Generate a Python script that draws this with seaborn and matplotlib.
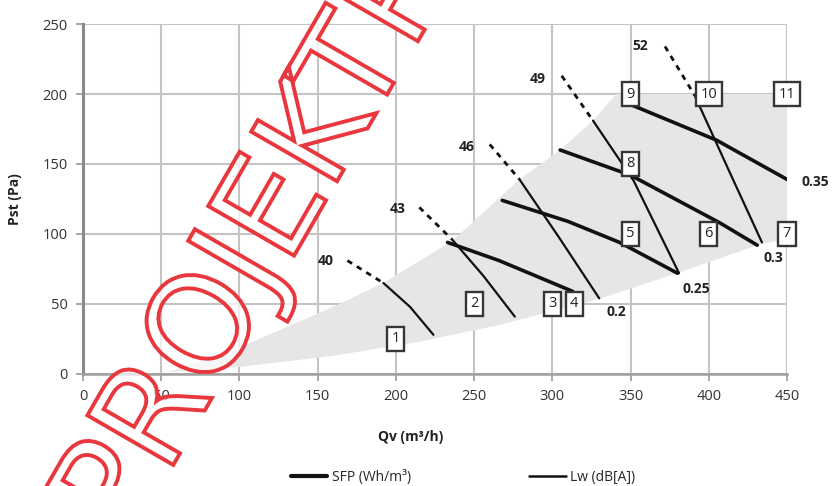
import matplotlib
matplotlib.use('Agg')
import matplotlib.pyplot as plt
import seaborn as sns
from matplotlib.lines import Line2D
from matplotlib.patches import PathPatch
from matplotlib.textpath import TextPath
from matplotlib.font_manager import FontProperties
from matplotlib.transforms import Affine2D

# working area (grey band)
region_top_x = [55, 96, 160, 192, 236, 279, 305, 326, 341, 450]
region_top_y = [1.5, 17, 48, 65, 95, 139, 160, 181, 200, 200]
region_bot_x = [55, 100, 160, 215, 266, 328, 380, 431, 450]
region_bot_y = [1.5, 5, 13, 23, 35, 53, 72, 92, 97]

# SFP curves (thick)
sfp_labels = ['0.2', '0.25', '0.3', '0.35']
sfp_x = [[233, 266, 313], [268, 310, 343, 380], [305, 350, 407, 431], [351, 405, 450]]
sfp_y = [[94, 81, 59], [124, 109, 94, 72], [160, 142, 108, 92], [192, 167, 139]]
sfp_label_x = [341, 392, 441, 468]
sfp_label_y = [44, 61, 83, 137]

# Lw curves (thin), dashed part outside the working area
lw_labels = ['40', '43', '46', '49', '52']
lw_dash_x = [[169, 192], [215, 236], [260, 279], [306, 326], [372, 391]]
lw_dash_y = [[81, 65], [119, 96], [164, 139], [213, 181], [234, 199]]
lw_solid_x = [[192, 209, 224], [236, 256, 276], [279, 304, 330], [326, 352, 381], [391, 413, 434]]
lw_solid_y = [[65, 48, 28], [96, 70, 41], [139, 98, 54], [181, 138, 72], [199, 145, 94]]
lw_label_x = [155, 201, 245, 291, 356]
lw_label_y = [81, 118, 162, 211, 234]

# numbered boxes
box_labels = ['1', '2', '3', '4', '5', '6', '7', '8', '9', '10', '11']
box_x = [200, 250, 300, 314, 350, 400, 450, 350, 350, 400, 450]
box_y = [25, 50, 50, 50, 100, 100, 100, 150, 200, 200, 200]

sns.set_theme(style='whitegrid')
plt.rcParams['font.family'] = ['Open Sans', 'DejaVu Sans']

fig = plt.figure(figsize=(8.35, 4.86), dpi=100)
ax = fig.add_axes([0.0994, 0.2305, 0.8431, 0.7201])
ax.set_facecolor('white')

# grey region
poly_x = region_top_x + region_bot_x[::-1]
poly_y = region_top_y + region_bot_y[::-1]
ax.fill(poly_x, poly_y, color='#e5e6e5', lw=0, zorder=1)

line_col = '#111111'
for xs, ys in zip(sfp_x, sfp_y):
    sns.lineplot(x=xs, y=ys, ax=ax, color=line_col, linewidth=2.6, sort=False,
                 estimator=None, zorder=3)
for xs, ys in zip(lw_solid_x, lw_solid_y):
    sns.lineplot(x=xs, y=ys, ax=ax, color=line_col, linewidth=1.6, sort=False,
                 estimator=None, zorder=3)
for xs, ys in zip(lw_dash_x, lw_dash_y):
    sns.lineplot(x=xs, y=ys, ax=ax, color=line_col, linewidth=2.0, sort=False,
                 estimator=None, linestyle=(0, (2, 2)), zorder=3)

for lab, x, y in zip(lw_labels, lw_label_x, lw_label_y):
    ax.text(x, y, lab, ha='center', va='center', fontsize=10, fontweight='bold',
            color='#222222', zorder=4)
for lab, x, y in zip(sfp_labels, sfp_label_x, sfp_label_y):
    ax.text(x, y, lab, ha='center', va='center', fontsize=10, fontweight='bold',
            color='#222222', zorder=4, clip_on=False)
for lab, x, y in zip(box_labels, box_x, box_y):
    ax.text(x, y, lab, ha='center', va='center', fontsize=10.5, color='#222222', zorder=5,
            bbox=dict(boxstyle='square,pad=0.3', fc='white', ec='#3a3535', lw=1.7))

ax.set_xlim(0, 450)
ax.set_ylim(0, 250)
ax.set_xticks(range(0, 451, 50))
ax.set_yticks(range(0, 251, 50))
ax.grid(True, color='#c4c4c4', linewidth=1.5)
ax.set_axisbelow(True)
for side in ['top', 'right']:
    ax.spines[side].set_visible(False)
ax.spines['left'].set_color('#8a8a8a')
ax.spines['left'].set_linewidth(2.2)
ax.spines['bottom'].set_color('#a0a0a0')
ax.spines['bottom'].set_linewidth(1.8)
ax.tick_params(axis='both', length=5, width=1.3, color='#a0a0a0', labelsize=10.5,
               labelcolor='#333333', direction='out', bottom=True, left=True, pad=6)

ax.set_xlabel('Qv (m³/h)', fontsize=10, fontweight='bold', color='#222222')
ax.xaxis.set_label_coords(0.466, -0.16)
ax.set_ylabel('Pst (Pa)', fontsize=10, fontweight='bold', color='#222222')
ax.yaxis.set_label_coords(-0.087, 0.5)

handles = [Line2D([0], [0], color=line_col, lw=3.0),
           Line2D([0], [0], color=line_col, lw=1.8)]
fig.legend(handles, ['SFP (Wh/m³)', 'Lw (dB[A])'], loc='lower center',
           bbox_to_anchor=(0.555, -0.024), ncol=2, frameon=False, fontsize=10,
           handlelength=2.6, handletextpad=0.35, columnspacing=8.5)

# red outlined watermark
tp = TextPath((0, 0), 'PROJEKTPLAN', size=136, prop=FontProperties(family='DejaVu Sans'))
tr = Affine2D().rotate_deg(60).translate(125.6, 486 - 547.5)
mark = PathPatch(tp, facecolor=(1, 1, 1, 0.7), edgecolor='#e8373d', lw=2.8,
                 transform=tr, zorder=10)
fig.add_artist(mark)

fig.savefig('out.png', dpi=100)
